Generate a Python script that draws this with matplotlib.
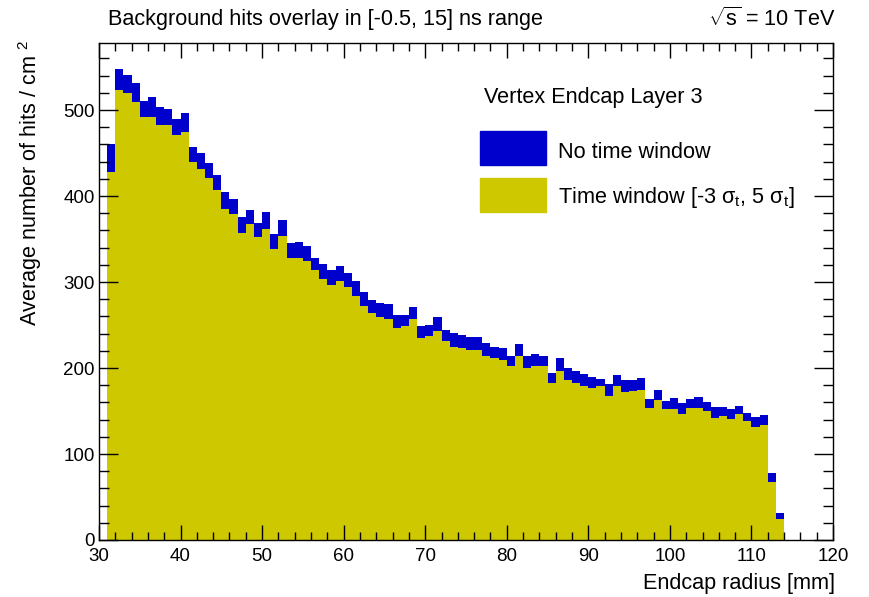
import numpy as np
import matplotlib.pyplot as plt
from matplotlib.patches import Rectangle
from matplotlib.ticker import MultipleLocator

plt.rcParams['font.family'] = ['Liberation Sans', 'DejaVu Sans']
plt.rcParams['mathtext.fontset'] = 'custom'
plt.rcParams['mathtext.rm'] = 'Liberation Sans'
plt.rcParams['mathtext.it'] = 'Liberation Sans:italic'

# Bin edges of the endcap radius histogram [mm], 1 mm bins.
bin_edges = np.arange(31, 115)

# Average hits per cm^2, no timing cut.
hits_no_window = [
    460, 548, 541, 532, 510, 515, 504, 501, 490, 497,
    457, 450, 438, 425, 405, 397, 376, 384, 369, 381,
    356, 372, 345, 347, 342, 328, 321, 314, 319, 311,
    301, 289, 279, 276, 274, 262, 262, 271, 249, 250,
    259, 244, 241, 238, 236, 236, 229, 225, 223, 214,
    228, 214, 216, 214, 194, 212, 200, 196, 193, 190,
    187, 181, 192, 186, 186, 188, 164, 175, 162, 165,
    159, 164, 166, 161, 155, 155, 152, 156, 148, 143,
    145, 78, 31,
]

# Average hits per cm^2 inside the [-3 sigma_t, 5 sigma_t] window.
hits_time_window = [
    428, 523, 520, 509, 492, 492, 483, 483, 471, 475,
    440, 431, 421, 407, 385, 379, 357, 367, 352, 362,
    338, 353, 328, 328, 325, 314, 304, 297, 301, 294,
    284, 272, 264, 259, 257, 247, 249, 257, 235, 237,
    243, 231, 225, 223, 221, 221, 214, 212, 209, 202,
    214, 200, 202, 202, 183, 197, 186, 183, 179, 177,
    179, 167, 179, 172, 173, 174, 154, 163, 152, 152,
    147, 154, 154, 150, 142, 144, 141, 147, 138, 131,
    134, 68, 24,
]

blue = '#0000cc'
yellow = '#cdc800'
fs = 15.6

W, H = 869, 597
fig = plt.figure(figsize=(W / 100, H / 100), dpi=100)


def fx(px):
    return px / W


def fy(py):
    return 1 - py / H


ax = fig.add_axes([fx(99), fy(540), fx(833) - fx(99), fy(43) - fy(540)])

ax.stairs(hits_no_window, bin_edges, fill=True, color=blue, linewidth=0)
ax.stairs(hits_time_window, bin_edges, fill=True, color=yellow, linewidth=0)

ax.set_xlim(30, 120)
ax.set_ylim(0, 578)

ax.xaxis.set_major_locator(MultipleLocator(10))
ax.xaxis.set_minor_locator(MultipleLocator(2))
ax.yaxis.set_major_locator(MultipleLocator(100))
ax.yaxis.set_minor_locator(MultipleLocator(20))
ax.tick_params(which='both', direction='in', top=True, right=True,
               labelsize=13.5, width=1.0, colors='black')
ax.xaxis.set_tick_params(which='major', length=11, pad=6)
ax.xaxis.set_tick_params(which='minor', length=5.5)
ax.yaxis.set_tick_params(which='major', length=14, pad=3)
ax.yaxis.set_tick_params(which='minor', length=7)
for sp in ax.spines.values():
    sp.set_linewidth(1.0)

# Axis titles, aligned to the far end of each axis like ROOT does.
fig.text(fx(835), fy(583), 'Endcap radius [mm]', fontsize=fs,
         ha='right', va='center')
fig.text(fx(30), fy(40), 'Average number of hits / cm $^{2}$', fontsize=fs,
         rotation=90, ha='center', va='top')

fig.text(fx(108), fy(19), 'Background hits overlay in [-0.5, 15] ns range',
         fontsize=fs, ha='left', va='center')
fig.text(fx(836), fy(19), r'$\sqrt{\mathrm{s}}$ = 10 TeV', fontsize=fs,
         ha='right', va='center')

# Legend block
fig.text(fx(484), fy(97), 'Vertex Endcap Layer 3', fontsize=fs,
         ha='left', va='center')
fig.patches.append(Rectangle((fx(480), fy(165)), fx(546) - fx(480),
                             fy(131) - fy(165), transform=fig.transFigure,
                             color=blue))
fig.patches.append(Rectangle((fx(480), fy(212)), fx(546) - fx(480),
                             fy(178) - fy(212), transform=fig.transFigure,
                             color=yellow))
fig.text(fx(558), fy(152), 'No time window', fontsize=fs,
         ha='left', va='center')
fig.text(fx(558), fy(197), r'Time window [-3 σ$_\mathrm{t}$, 5 σ$_\mathrm{t}$]',
         fontsize=fs, ha='left', va='center')

fig.savefig('out.png', dpi=100)
